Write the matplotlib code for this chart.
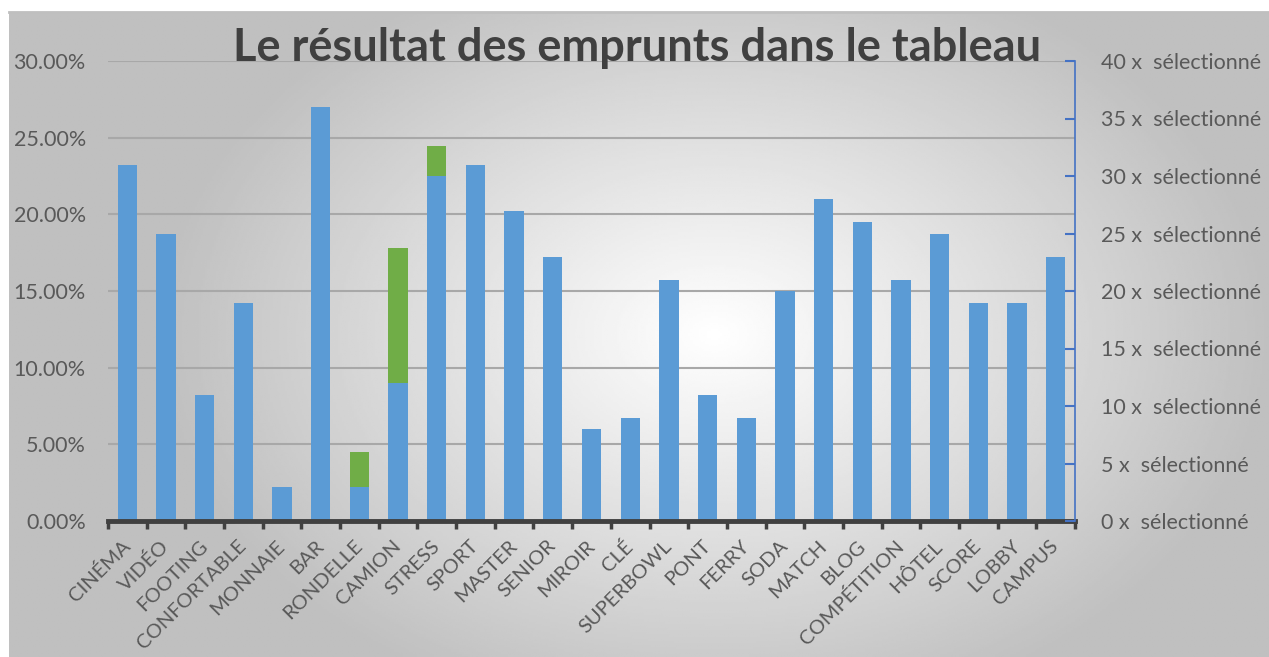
import numpy as np
import matplotlib.pyplot as plt
from matplotlib.ticker import FuncFormatter, MultipleLocator

plt.rcParams['font.family'] = ['Lato', 'DejaVu Sans']

mots = ['CINÉMA', 'VIDÉO', 'FOOTING', 'CONFORTABLE', 'MONNAIE', 'BAR', 'RONDELLE',
        'CAMION', 'STRESS', 'SPORT', 'MASTER', 'SENIOR', 'MIROIR', 'CLÉ', 'SUPERBOWL',
        'PONT', 'FERRY', 'SODA', 'MATCH', 'BLOG', 'COMPÉTITION', 'HÔTEL', 'SCORE',
        'LOBBY', 'CAMPUS']
# pourcentages
bleu = [23.25, 18.75, 8.25, 14.25, 2.25, 27.0, 2.25, 9.0, 22.5, 23.25, 20.25, 17.25,
        6.0, 6.75, 15.75, 8.25, 6.75, 15.0, 21.0, 19.5, 15.75, 18.75, 14.25, 14.25, 17.25]
vert = [0, 0, 0, 0, 0, 0, 2.22, 8.8, 1.95, 0, 0, 0,
        0, 0, 0, 0, 0, 0, 0, 0, 0, 0, 0, 0, 0]
titre = 'Le résultat des emprunts dans le tableau'

W, H = 1269, 657
fig = plt.figure(figsize=(W / 100, H / 100), dpi=100)
fig.patch.set_facecolor('white')

# fond dégradé radial
bg = fig.add_axes([9 / W, 0, 1 - 9 / W, 1 - 12 / H], zorder=-5)
yy, xx = np.mgrid[0:1:300j, 0:1:600j]
d = np.sqrt(((xx - 0.56) * 1.25) ** 2 + ((yy - 0.5) * 0.9) ** 2)
val = np.clip(1.0 - 0.45 * d, 0.75, 1.0)
bg.imshow(val, cmap='gray', vmin=0, vmax=1, aspect='auto', extent=[0, 1, 0, 1], origin='lower')
bg.set_xticks([])
bg.set_yticks([])
for s in ['left', 'right', 'bottom']:
    bg.spines[s].set_visible(False)
bg.spines['top'].set_color('#bfbfbf')
bg.spines['top'].set_linewidth(2)

ax = fig.add_axes([108 / W, (H - 521) / H, (1075 - 108) / W, (521 - 61) / H])
ax.set_facecolor('none')
x = np.arange(len(mots))
ax.bar(x, bleu, width=0.5, color='#5B9BD5', zorder=3)
ax.bar(x, vert, width=0.5, bottom=bleu, color='#70AD47', zorder=3)

ax.set_xlim(-0.5, len(mots) - 0.5)
ax.set_ylim(0, 30)
ax.yaxis.set_major_locator(MultipleLocator(5))
ax.yaxis.set_major_formatter(FuncFormatter(lambda v, p: '%.2f%%' % v))
ax.grid(axis='y', color='#a8a8a8', linewidth=1.5, zorder=0)
ax.tick_params(axis='y', length=0, pad=16, labelsize=15.5, labelcolor='#595959')

ax.set_xticks(x)
ax.set_xticklabels(mots, rotation=45, ha='right', va='center', rotation_mode='anchor',
                   fontsize=14.5, color='#595959')
ax.tick_params(axis='x', which='major', length=0, pad=16)
ax.set_xticks(np.arange(len(mots) + 1) - 0.5, minor=True)
ax.tick_params(axis='x', which='minor', length=6, width=2.5, color='#404040', direction='out')

for s in ['top', 'left', 'right']:
    ax.spines[s].set_visible(False)
ax.spines['bottom'].set_color('#404040')
ax.spines['bottom'].set_linewidth(3.5)
ax.spines['bottom'].set_zorder(4)

ax2 = ax.twinx()
ax2.set_ylim(0, 40)
ax2.yaxis.set_major_locator(MultipleLocator(5))
ax2.yaxis.set_major_formatter(FuncFormatter(lambda v, p: '%d x  sélectionné' % v))
for s in ['top', 'left', 'bottom']:
    ax2.spines[s].set_visible(False)
ax2.spines['right'].set_color('#4472C4')
ax2.spines['right'].set_linewidth(1.2)
ax2.tick_params(axis='y', direction='in', length=7, width=1.5, color='#4472C4',
                pad=19, labelsize=15.5, labelcolor='#595959')

fig.text(637 / W, 1 - 48 / H, titre, ha='center', va='center', fontsize=32.5,
         fontweight='bold', color='#404040')

fig.savefig('out.png', dpi=100)
